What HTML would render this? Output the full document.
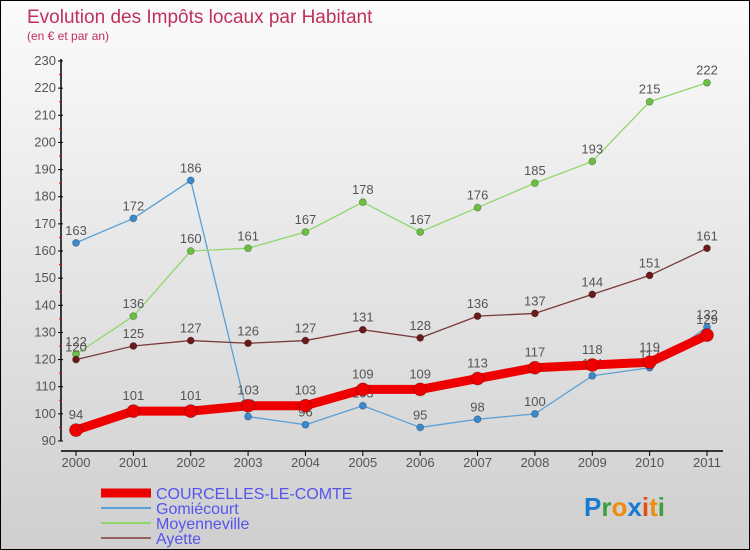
<!DOCTYPE html>
<html><head><meta charset="utf-8"><style>
body{margin:0}
#c{width:750px;height:550px;position:relative;box-sizing:border-box;border:1px solid #000;background:linear-gradient(#fbfbfb,#cfcfcf);font-family:"Liberation Sans",sans-serif;overflow:hidden}
svg{position:absolute;left:0;top:0}
</style></head><body>
<div id="c">
<svg id="s" width="750" height="550">
<text x="26" y="22" font-size="19" fill="#c0305a">Evolution des Impôts locaux par Habitant</text>
<text x="26" y="39" font-size="12" fill="#c0305a">(en € et par an)</text>
</svg>
</div>
<script>
const years=[2000,2001,2002,2003,2004,2005,2006,2007,2008,2009,2010,2011];
const courcelles=[94,101,101,103,103,109,109,113,117,118,119,129];
const gomiecourt=[163,172,186,99,96,103,95,98,100,114,117,132];
const moyenneville=[122,136,160,161,167,178,167,176,185,193,215,222];
const ayette=[120,125,127,126,127,131,128,136,137,144,151,161];
const yTicks=[90,100,110,120,130,140,150,160,170,180,190,200,210,220,230];
const NS='http://www.w3.org/2000/svg';
const s=document.getElementById('s');
const X=i=>75+i*(631/11);
const Y=v=>440-(v-90)*380/140;
function el(t,a,p){const e=document.createElementNS(NS,t);for(const k in a)e.setAttribute(k,a[k]);(p||s).appendChild(e);return e;}
let ax=el('line',{x1:60,y1:58,x2:60,y2:440,stroke:'#000','stroke-width':1.5});


let xa=el('line',{x1:60,y1:450,x2:722,y2:450,stroke:'#000','stroke-width':1.5});


yTicks.forEach((v,i)=>{
  el('line',{x1:57,y1:Y(v),x2:62,y2:Y(v),stroke:'#000'});
  if(i<yTicks.length-1)el('line',{x1:58,y1:Y(v+5),x2:61,y2:Y(v+5),stroke:'#e00'});
  const t=el('text',{x:55,y:Y(v)+4,'font-size':13,fill:'#555','text-anchor':'end'});t.textContent=v;
  
  
});
years.forEach((y,i)=>{
  el('line',{x1:X(i),y1:450,x2:X(i),y2:455,stroke:'#000'});
  const t=el('text',{x:X(i),y:466,'font-size':13,fill:'#555','text-anchor':'middle'});t.textContent=y;
  
  
});
function series(d,col,w,r,name,pcol){
  const g=el('g',{});
  
  
  el('polyline',{points:d.map((v,i)=>X(i)+','+Y(v)).join(' '),fill:'none',stroke:col,'stroke-width':w,'stroke-linejoin':'round'},g);
  d.forEach((v,i)=>{
    const c=el('circle',{cx:X(i),cy:Y(v),r:r,fill:pcol,stroke:'rgba(0,0,0,0.3)','stroke-width':0.8},g);
    
    
    const t=el('text',{x:X(i),y:Y(v)-8-(r>5?3:0),'font-size':13,fill:'#555','text-anchor':'middle'},g);t.textContent=v;
  });
}
series(gomiecourt,'#5aa0d6',1.3,3.5,'gomiecourt','#3a8ad0');
series(moyenneville,'#8ed86a',1.3,3.5,'moyenneville','#6cc040');
series(ayette,'#7a3a3a',1.3,3.5,'ayette','#6a1a1a');
series(courcelles,'#ee0000',9,6.5,'courcelles','#ee0000');
const leg=[['COURCELLES-LE-COMTE','#ee0000',9],['Gomiécourt','#5aa0d6',2],['Moyenneville','#8ed86a',2],['Ayette','#9a6060',2]];
leg.forEach((l,i)=>{
  const y=492+i*15;
  const g=el('g',{});
  
  
  el('line',{x1:100,y1:y,x2:150,y2:y,stroke:l[1],'stroke-width':l[2]},g);
  const t=el('text',{x:155,y:y+6,'font-size':16,fill:'#5555ee'},g);t.textContent=l[0];
});
const lg=el('text',{x:583,y:515,'font-size':26,'font-weight':'bold'});


[['P','#1a7ad0'],['r','#3aa040'],['o','#f08a10'],['x','#1a7ad0'],['i','#e05010'],['t','#f08a10'],['i','#3aa040']].forEach(p=>{const ts=el('tspan',{fill:p[1]},lg);ts.textContent=p[0];});
</script>
</body></html>
